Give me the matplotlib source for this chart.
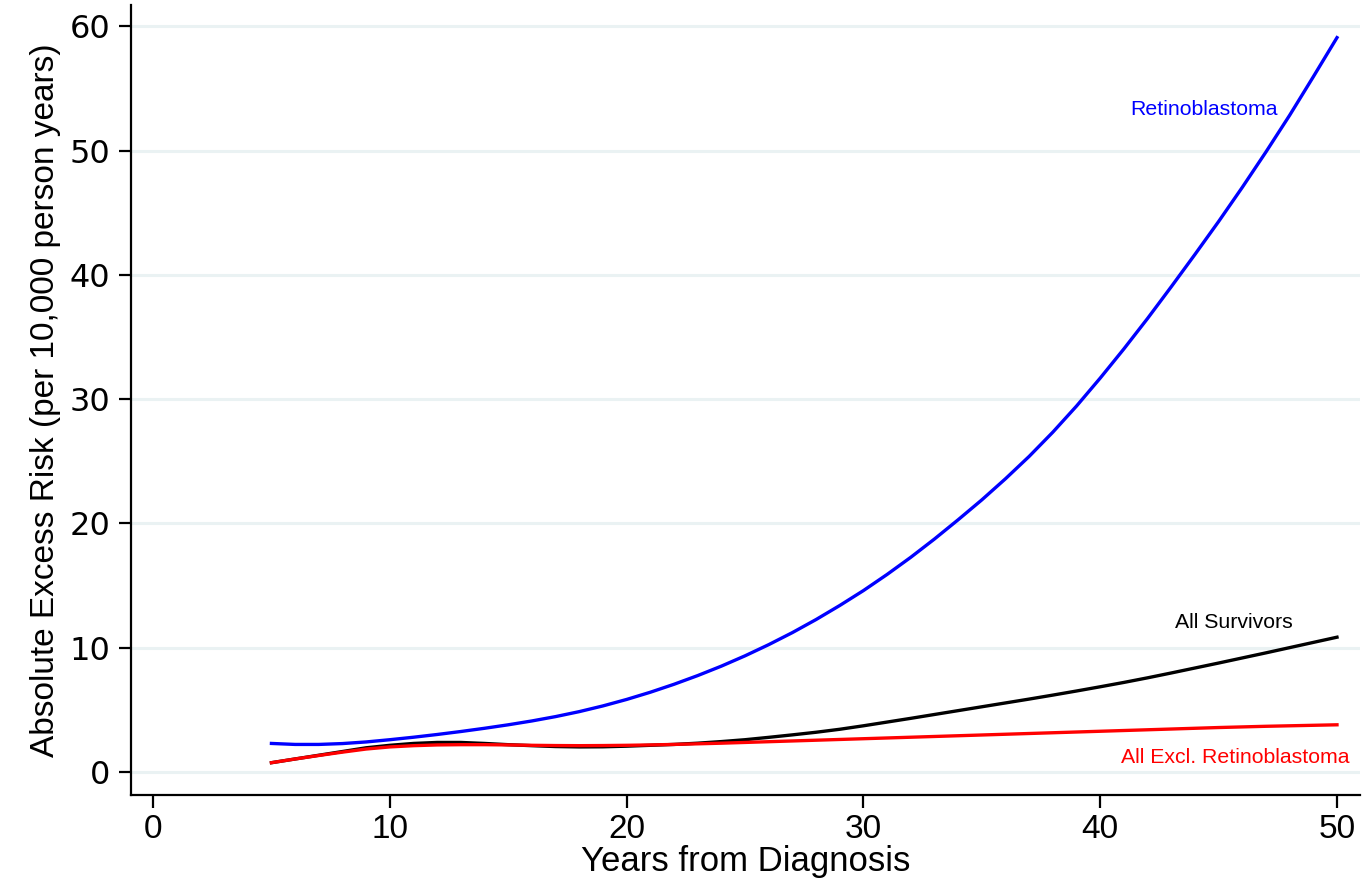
import matplotlib.pyplot as plt

# Years since diagnosis and fitted absolute excess risk per group
years = list(range(5, 51))

retinoblastoma = [
    2.30, 2.22, 2.22, 2.29, 2.42, 2.60, 2.80, 3.02, 3.26, 3.52,
    3.80, 4.11, 4.46, 4.86, 5.32, 5.84, 6.42, 7.06, 7.76, 8.52,
    9.35, 10.25, 11.22, 12.27, 13.40, 14.60, 15.90, 17.28, 18.75, 20.30,
    21.90, 23.60, 25.40, 27.35, 29.45, 31.70, 34.05, 36.50, 39.05, 41.65,
    44.30, 47.05, 49.90, 52.85, 55.95, 59.10,
]

all_survivors = [
    0.75, 1.05, 1.35, 1.65, 1.95, 2.15, 2.30, 2.38, 2.38, 2.30,
    2.20, 2.12, 2.05, 2.02, 2.03, 2.08, 2.15, 2.22, 2.32, 2.45,
    2.60, 2.79, 2.99, 3.20, 3.44, 3.72, 4.02, 4.32, 4.63, 4.94,
    5.25, 5.56, 5.87, 6.19, 6.52, 6.86, 7.21, 7.58, 7.97, 8.37,
    8.77, 9.18, 9.59, 10.01, 10.43, 10.85,
]

all_excl_rb = [
    0.75, 1.05, 1.33, 1.60, 1.85, 2.02, 2.12, 2.18, 2.20, 2.20,
    2.18, 2.15, 2.13, 2.12, 2.13, 2.15, 2.18, 2.22, 2.27, 2.32,
    2.38, 2.44, 2.50, 2.56, 2.62, 2.68, 2.74, 2.80, 2.86, 2.92,
    2.98, 3.04, 3.10, 3.16, 3.22, 3.28, 3.34, 3.40, 3.46, 3.52,
    3.58, 3.63, 3.68, 3.72, 3.76, 3.80,
]

x_ticks = [0, 10, 20, 30, 40, 50]
y_ticks = [0, 10, 20, 30, 40, 50, 60]

plt.rcParams['font.family'] = ['Liberation Sans', 'DejaVu Sans']

fig = plt.figure(figsize=(13.62, 8.86), dpi=100)
ax = fig.add_axes([0.0962, 0.1027, 0.9023, 0.8913])

for y in y_ticks:
    ax.axhline(y, color='#eaf2f3', lw=2.2, zorder=0)

ax.plot(years, retinoblastoma, color='#0000ff', lw=2.4, zorder=3)
ax.plot(years, all_survivors, color='black', lw=2.4, zorder=2)
ax.plot(years, all_excl_rb, color='#ff0000', lw=2.4, zorder=3)

ax.text(44.4, 53.3, 'Retinoblastoma', color='#0000ff', fontsize=15.3,
        ha='center', va='center')
ax.text(45.65, 12.0, 'All Survivors', color='black', fontsize=15.3,
        ha='center', va='center')
ax.text(45.7, 1.2, 'All Excl. Retinoblastoma', color='#ff0000', fontsize=15.3,
        ha='center', va='center')

ax.set_xlim(-0.93, 50.97)
ax.set_ylim(-1.85, 61.7)
ax.set_xticks(x_ticks)
ax.set_yticks(y_ticks)
ax.tick_params(axis='x', labelsize=24, length=9, width=1.6, pad=5)
ax.tick_params(axis='y', labelsize=23, length=9, width=1.6, pad=6)
for lab in ax.get_yticklabels():
    lab.set_family('DejaVu Sans')

ax.spines['top'].set_visible(False)
ax.spines['right'].set_visible(False)
ax.spines['left'].set_linewidth(1.6)
ax.spines['bottom'].set_linewidth(1.6)

ax.set_xlabel('Years from Diagnosis', fontsize=25, labelpad=0)
ax.set_ylabel('Absolute Excess Risk (per 10,000 person years)', fontsize=24,
              labelpad=6)

fig.savefig('out.png', dpi=100)
